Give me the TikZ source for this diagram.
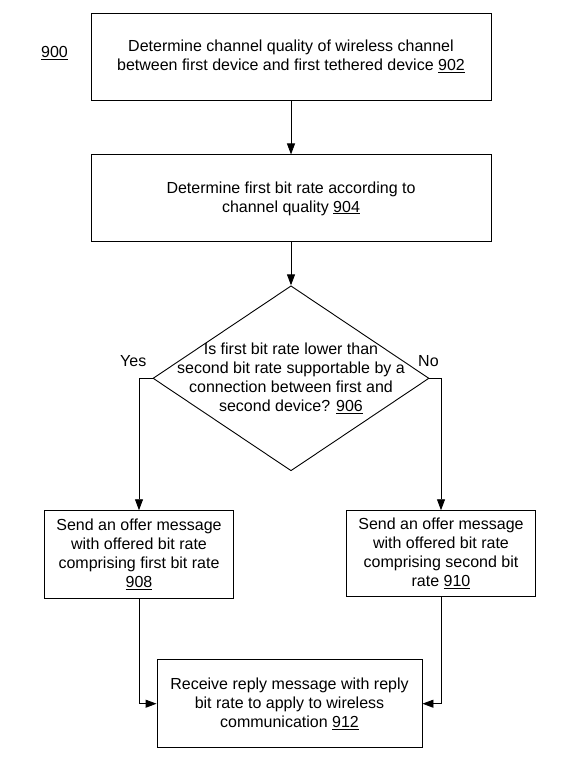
\documentclass[tikz,border=0pt]{standalone}
\usepackage{fontspec}
\setmainfont{Liberation Sans}
\usepackage{tikz}
\usetikzlibrary{positioning}
\usetikzlibrary{shapes.geometric}
\usetikzlibrary{arrows.meta}

\tikzset{
  block/.style={draw, line width=0.9pt, align=center, inner sep=0pt,
    minimum height=87pt, font=\fontsize{16pt}{19pt}\selectfont},
  decision/.style={draw, diamond, line width=0.9pt, inner sep=0pt,
    minimum width=276pt, minimum height=185pt},
  txt/.style={align=center, inner sep=0pt, font=\fontsize{16pt}{19pt}\selectfont},
  arr/.style={line width=0.9pt, -{Triangle[length=11pt,width=8pt]}}
}

\begin{document}
\begin{tikzpicture}[x=1pt, y=-1pt]

  \useasboundingbox (0,0) rectangle (576,766);

  % Define nodes
  \node[txt] (fig_900) at (54.5,53) {\underline{900}};

  \node[block, minimum width=400pt] (b902) at (291,56.5)
    {Determine channel quality of wireless channel\\between first device and first tethered device \underline{902}};
  \node[block, minimum width=400pt, below=54pt of b902] (b904)
    {Determine first bit rate according to\\channel quality \underline{904}};

  \node[decision, below=43pt of b904] (d906) {};
  \node[txt] (q906) at (d906.center)
    {Is first bit rate lower than\\second bit rate supportable by a\\connection between first and\\second device? \underline{906}};

  \node[txt, above left=11pt and 6pt of d906.west] (yes) {Yes};
  \node[txt, above=11pt of d906.east, xshift=-1pt] (no) {No};

  \node[block, minimum width=189pt, minimum height=88pt, below=39pt of d906, xshift=-152pt] (b908)
    {Send an offer message\\with offered bit rate\\comprising first bit rate\\\underline{908}};
  \node[block, minimum width=189pt, minimum height=86pt, below=39pt of d906, xshift=150pt] (b910)
    {Send an offer message\\with offered bit rate\\comprising second bit\\rate \underline{910}};

  \node[block, minimum width=265pt, minimum height=88pt, below=188pt of d906, xshift=-1.5pt] (b912)
    {Receive reply message with reply\\bit rate to apply to wireless\\communication \underline{912}};

  % Connect nodes
  \draw[arr] (b902) -- (b904);
  \draw[arr] (b904) -- (d906);

  \draw[arr] (d906.west) -| (b908.north);
  \draw[arr] (d906.east) -| (b910.north);

  \draw[arr] (b908.south) |- (b912.west);
  \draw[arr] (b910.south) |- (b912.east);

\end{tikzpicture}
\end{document}
